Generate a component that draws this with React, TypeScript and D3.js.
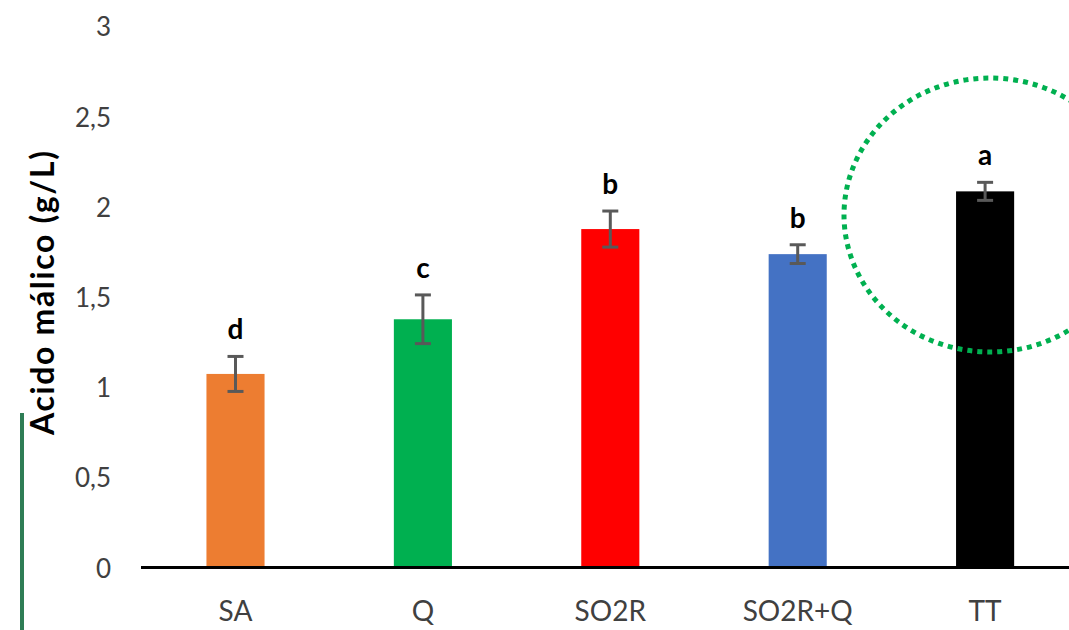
import * as d3 from 'd3'

const categories = ['SA', 'Q', 'SO2R', 'SO2R+Q', 'TT']
const values = [1.073, 1.376, 1.876, 1.737, 2.085]
const errors = [0.097, 0.135, 0.1, 0.052, 0.05]
const letters = ['d', 'c', 'b', 'b', 'a']
const colors = ['#ed7d31', '#00b050', '#ff0000', '#4472c4', '#000000']
const yTicks = [0, 0.5, 1, 1.5, 2, 2.5, 3]

const W = 1069
const H = 630
const font = 'Lato, "Open Sans", sans-serif'

export default function App() {
  const x = d3
    .scaleBand<string>()
    .domain(categories)
    .range([141.8, 1078.8])
    .paddingInner(0.69)
    .paddingOuter(0.345)
  const y = d3.scaleLinear().domain([0, 3]).range([567.5, 26.3])
  const fmt = (v: number) => String(v).replace('.', ',')

  return (
    <svg
      width={W}
      height={H}
      viewBox={`0 0 ${W} ${H}`}
      style={{ position: 'absolute', left: 0, top: 0, background: '#fff' }}
    >
      {/* ================= Y TICKS ================= */}
      {yTicks.map((t) => (
        <text
          key={t}
          x={111}
          y={y(t)}
          textAnchor="end"
          dominantBaseline="central"
          fontFamily={font}
          fontSize={26}
          fill="#404040"
        >
          {fmt(t)}
        </text>
      ))}

      <text
        transform={`translate(41,${293}) rotate(-90)`}
        textAnchor="middle"
        dominantBaseline="central"
        fontFamily={font}
        fontSize={32}
        fontWeight="bold"
        fill="#000"
        textLength={284}
        lengthAdjust="spacing"
      >
        Acido málico (g/L)
      </text>

      {/* ================= BARS ================= */}
      {categories.map((c, i) => {
        const bx = x(c) as number
        const cx = bx + x.bandwidth() / 2
        const top = y(values[i] + errors[i])
        const bot = y(values[i] - errors[i])
        return (
          <g key={c}>
            <rect
              x={bx}
              y={y(values[i])}
              width={x.bandwidth()}
              height={y(0) - y(values[i])}
              fill={colors[i]}
            />
            <line x1={cx} x2={cx} y1={top} y2={bot} stroke="#595959" strokeWidth={3} />
            <line x1={cx - 8} x2={cx + 8} y1={top} y2={top} stroke="#595959" strokeWidth={3} />
            <line x1={cx - 8} x2={cx + 8} y1={bot} y2={bot} stroke="#595959" strokeWidth={3} />
            <text
              x={cx}
              y={top - 17}
              textAnchor="middle"
              fontFamily={font}
              fontSize={28}
              fontWeight="bold"
              fill="#000"
            >
              {letters[i]}
            </text>
            <text
              x={cx}
              y={610}
              textAnchor="middle"
              dominantBaseline="central"
              fontFamily={font}
              fontSize={28}
              fill="#404040"
            >
              {c}
            </text>
          </g>
        )
      })}

      {/* ================= AXIS ================= */}
      <line x1={141} x2={W} y1={y(0)} y2={y(0)} stroke="#000" strokeWidth={3} />

      {/* ================= ANNOTATIONS ================= */}
      <ellipse
        cx={990}
        cy={215}
        rx={146}
        ry={137}
        fill="none"
        stroke="#00b050"
        strokeWidth={5}
        strokeDasharray="5 5"
      />
      <line x1={22} x2={22} y1={413} y2={H} stroke="#2e7d55" strokeWidth={4} />
    </svg>
  )
}
